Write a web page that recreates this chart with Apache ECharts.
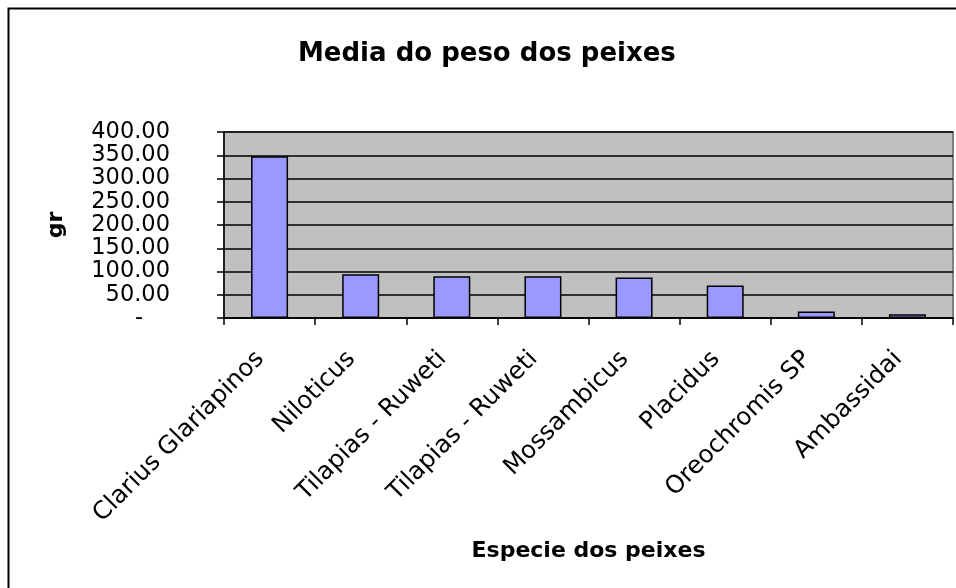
<!DOCTYPE html>
<html>
<head>
<meta charset="utf-8">
<script src="https://cdn.jsdelivr.net/npm/echarts@6/dist/echarts.min.js"></script>
<style>html,body{margin:0;padding:0;background:#fff}#c{width:956px;height:588px}</style>
</head>
<body>
<div id="c"></div>
<script>
var categories = ["Clarius Glariapinos","Niloticus","Tilapias - Ruweti","Tilapias - Ruweti","Mossambicus","Placidus","Oreochromis SP","Ambassidai"];
var values = [348, 94, 90, 90, 87, 70, 14, 8];
var yTicks = {min: 0, max: 400, interval: 50};

var chart = echarts.init(document.getElementById('c'), null, {renderer: 'canvas'});
var font = 'DejaVu Sans, sans-serif';
chart.setOption({
  animation: false,
  backgroundColor: '#fff',
  title: {
    text: 'Media do peso dos peixes',
    left: 293, top: 36,
    textStyle: {fontFamily: font, fontSize: 26, fontWeight: 'bold', color: '#000'}
  },
  graphic: [{
    type: 'rect', shape: {x: 8.5, y: 8.5, width: 1000, height: 700},
    style: {fill: 'none', stroke: '#000', lineWidth: 2}, z: -1
  }],
  grid: {left: 224, right: 3, top: 132, bottom: 270, show: true, backgroundColor: '#C0C0C0', borderColor: '#808080', borderWidth: 2},
  xAxis: {
    type: 'category',
    data: categories,
    name: 'Especie dos peixes',
    nameLocation: 'middle',
    nameGap: 222,
    nameTextStyle: {fontFamily: font, fontSize: 22, fontWeight: 'bold', color: '#000'},
    axisLine: {lineStyle: {color: '#000', width: 1.5}},
    axisTick: {show: true, length: 7, lineStyle: {color: '#000', width: 1.5}},
    axisLabel: {rotate: 45, fontFamily: font, fontSize: 24.5, color: '#000', margin: 28, padding: [0, 13, 0, 0], interval: 0}
  },
  yAxis: {
    type: 'value',
    min: yTicks.min, max: yTicks.max, interval: yTicks.interval,
    name: 'gr',
    nameLocation: 'middle',
    nameGap: 157,
    nameTextStyle: {fontFamily: font, fontSize: 22, fontWeight: 'bold', color: '#000'},
    axisLine: {show: true, lineStyle: {color: '#000', width: 1.5}},
    axisTick: {show: true, inside: false, length: 7, lineStyle: {color: '#000', width: 1.5}},
    splitLine: {show: true, lineStyle: {color: '#000', width: 1.5}},
    axisLabel: {
      fontFamily: font, fontSize: 22.5, color: '#000', margin: 54, align: 'right',
      formatter: function (v) { return v === 0 ? '{z|-}' : v.toFixed(2); },
      rich: {z: {fontFamily: font, fontSize: 22.5, color: '#000', padding: [0, 27, 0, 0]}}
    }
  },
  series: [{
    type: 'bar',
    data: values,
    barWidth: 37,
    itemStyle: {color: '#9999FF', borderColor: '#000', borderWidth: 1.5}
  }]
});
</script>
</body>
</html>
